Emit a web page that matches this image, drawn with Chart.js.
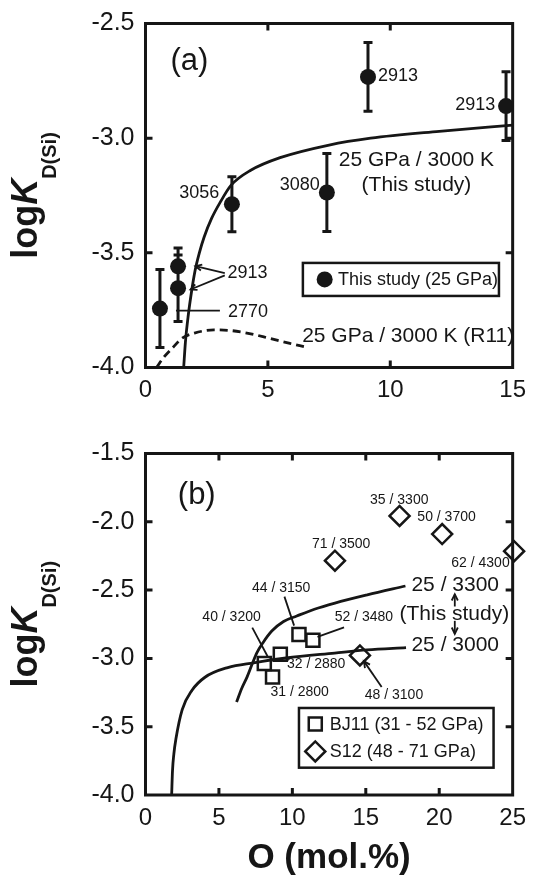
<!DOCTYPE html>
<html>
<head>
<meta charset="utf-8">
<script src="https://cdn.jsdelivr.net/npm/chart.js@4.4.1/dist/chart.umd.min.js"></script>
<style>
  html, body { margin: 0; padding: 0; background: #fff; }
  body { width: 537px; height: 876px; position: relative; overflow: hidden; }
  canvas { position: absolute; left: 0; }
  #chartA { top: 0; }
  #chartB { top: 430px; }
</style>
</head>
<body>
<canvas id="chartA" width="537" height="430"></canvas>
<canvas id="chartB" width="537" height="446"></canvas>
<script>
// ---- panel (a): this study, 25 GPa ----
const oStudy = [0.59, 1.33, 1.33, 3.53, 7.41, 9.09, 14.73]
const logKdStudy = [-3.743, -3.559, -3.654, -3.288, -3.237, -2.733, -2.86]
const errStudy = [0.17, 0.08, 0.145, 0.12, 0.17, 0.15, 0.15]

// 25 GPa / 3000 K model curve (this study)
const fitA_O = [1.56, 1.63, 1.75, 1.88, 2.02, 2.2, 2.4, 2.7, 3.05, 3.5, 4.3, 5.5, 7.5, 9.2, 12, 15]
const fitA_logKd = [-4.0, -3.89, -3.77, -3.67, -3.58, -3.5, -3.43, -3.35, -3.28, -3.205, -3.14, -3.085, -3.03, -3.0, -2.97, -2.943]

// 25 GPa / 3000 K curve of R11 (dashed)
const r11_O = [0.45, 0.75, 1.1, 1.5, 2.0, 2.8, 3.5, 4.3, 5.1, 5.9, 6.5]
const r11_logKd = [-4.0, -3.955, -3.915, -3.872, -3.85, -3.836, -3.839, -3.853, -3.874, -3.895, -3.91]

const xTicksA = [0, 5, 10, 15]
const yTicksA = [-4.0, -3.5, -3.0, -2.5]

// ---- panel (b): literature data ----
const bj11_O = [8.09, 8.65, 9.18, 10.45, 11.4]
const bj11_logKd = [-3.037, -3.136, -2.97, -2.825, -2.868]
const s12_O = [12.9, 14.6, 17.3, 20.2, 25.1]
const s12_logKd = [-2.285, -2.978, -1.957, -2.09, -2.215]

// model curves 25 GPa / 3000 K and 25 GPa / 3300 K
const fit3000_O = [1.78, 1.84, 1.93, 2.07, 2.5, 3.17, 4.05, 5.6, 7.36, 9.57, 12.88, 15.09, 17.74]
const fit3000_logKd = [-4.0, -3.82, -3.7, -3.59, -3.375, -3.233, -3.138, -3.067, -3.032, -2.997, -2.961, -2.938, -2.921]
const fit3300_O = [6.2, 6.55, 6.92, 7.25, 7.58, 8.0, 8.6, 9.4, 10.3, 11.5, 12.9, 15.1, 17.7]
const fit3300_logKd = [-3.32, -3.22, -3.135, -3.045, -2.96, -2.885, -2.8, -2.73, -2.69, -2.64, -2.595, -2.535, -2.47]

const xTicksB = [0, 5, 10, 15, 20, 25]
const yTicksB = [-4.0, -3.5, -3.0, -2.5, -2.0, -1.5]

const ink = '#161616'
const fam = '"Liberation Sans", Arial, Helvetica, sans-serif'

const pairs = (xs, ys) => xs.map((x, i) => ({ x, y: ys[i] }))

// text notes in data units: [text, x, y, size, align]
const notesA = [
  ['(a)', 1.02, -2.665, 31, 'left'],
  ['2913', 9.5, -2.729, 18, 'left'],
  ['2913', 14.29, -2.856, 18, 'right'],
  ['3056', 3.01, -3.238, 18, 'right'],
  ['3080', 7.12, -3.204, 18, 'right'],
  ['25 GPa / 3000 K', 11.07, -3.094, 21, 'center'],
  ['(This study)', 11.07, -3.206, 21, 'center'],
  ['2913', 3.35, -3.59, 18, 'left'],
  ['2770', 3.37, -3.76, 18, 'left'],
  ['25 GPa / 3000 K (R11)', 6.4, -3.862, 21, 'left'],
]
// leader lines: [x1, y1, x2, y2, arrowhead]
const leadersA = [
  [3.24, -3.588, 2.04, -3.558, true],
  [3.24, -3.598, 1.84, -3.66, true],
  [3.04, -3.752, 1.245, -3.752, false],
]
const notesB = [
  ['(b)', 2.2, -1.805, 31, 'left'],
  ['35 / 3300', 17.28, -1.845, 14, 'center'],
  ['50 / 3700', 20.5, -1.967, 14, 'center'],
  ['71 / 3500', 13.32, -2.164, 14, 'center'],
  ['62 / 4300', 22.81, -2.305, 14, 'center'],
  ['44 / 3150', 9.24, -2.489, 14, 'center'],
  ['40 / 3200', 5.86, -2.7, 14, 'center'],
  ['52 / 3480', 14.87, -2.7, 14, 'center'],
  ['32 / 2880', 11.62, -3.039, 14, 'center'],
  ['31 / 2800', 10.5, -3.244, 14, 'center'],
  ['48 / 3100', 16.92, -3.268, 14, 'center'],
  ['25 / 3300', 21.09, -2.463, 21, 'center'],
  ['(This study)', 21.03, -2.676, 21, 'center'],
  ['25 / 3000', 21.09, -2.907, 21, 'center'],
]
const leadersB = [
  [9.46, -2.548, 10.12, -2.76, false],
  [7.27, -2.775, 8.31, -2.984, false],
  [13.52, -2.773, 11.71, -2.843, false],
  [16.08, -3.209, 14.87, -3.02, true],
  [21.06, -2.62, 21.06, -2.53, true],
  [21.06, -2.725, 21.06, -2.82, true],
]
// legend boxes: box [x1, x2, y1, y2], rows [style, x, y, text, textX]
const legendA = { box: [6.43, 14.44, -3.544, -3.688], rows: [['circle', 7.32, -3.616, 'This study (25 GPa)', 7.86]] }
const legendB = {
  box: [10.45, 23.7, -3.363, -3.8],
  rows: [
    ['rect', 11.56, -3.481, 'BJ11 (31 - 52 GPa)', 12.55],
    ['rectRot', 11.56, -3.681, 'S12 (48 - 71 GPa)', 12.55],
  ],
}

function marker(ctx, style, x, y, r) {
  ctx.beginPath()
  if (style === 'circle') {
    ctx.arc(x, y, r, 0, Math.PI * 2)
    ctx.fill()
  } else if (style === 'rect') {
    const s = r * Math.SQRT1_2
    ctx.rect(x - s, y - s, 2 * s, 2 * s)
    ctx.stroke()
  } else {
    ctx.moveTo(x - r, y)
    ctx.lineTo(x, y - r)
    ctx.lineTo(x + r, y)
    ctx.lineTo(x, y + r)
    ctx.closePath()
    ctx.stroke()
  }
}

function arrowLine(ctx, x1, y1, x2, y2, head) {
  ctx.beginPath()
  ctx.moveTo(x1, y1)
  ctx.lineTo(x2, y2)
  ctx.stroke()
  if (!head) return
  const ang = Math.atan2(y2 - y1, x2 - x1)
  const L = 7, w = 0.45
  ctx.beginPath()
  ctx.moveTo(x2 - L * Math.cos(ang - w), y2 - L * Math.sin(ang - w))
  ctx.lineTo(x2, y2)
  ctx.lineTo(x2 - L * Math.cos(ang + w), y2 - L * Math.sin(ang + w))
  ctx.stroke()
}

// frame round the plot area with inward ticks on all four sides
const framePlugin = {
  id: 'frame',
  afterDraw(chart) {
    const { ctx, chartArea: a, scales: { x, y } } = chart
    ctx.save()
    ctx.strokeStyle = ink
    ctx.lineWidth = 3
    ctx.strokeRect(a.left, a.top, a.right - a.left, a.bottom - a.top)
    const len = 7
    ctx.beginPath()
    x.ticks.forEach((t) => {
      const px = x.getPixelForValue(t.value)
      if (px < a.left + 2 || px > a.right - 2) return
      ctx.moveTo(px, a.bottom); ctx.lineTo(px, a.bottom - len)
      ctx.moveTo(px, a.top); ctx.lineTo(px, a.top + len)
    })
    y.ticks.forEach((t) => {
      const py = y.getPixelForValue(t.value)
      if (py < a.top + 2 || py > a.bottom - 2) return
      ctx.moveTo(a.left, py); ctx.lineTo(a.left + len, py)
      ctx.moveTo(a.right, py); ctx.lineTo(a.right - len, py)
    })
    ctx.stroke()
    ctx.restore()
  },
}

// rotated y title: log K with subscript D(Si)
const yTitlePlugin = {
  id: 'ytitle',
  afterDraw(chart) {
    const { ctx, chartArea: a } = chart
    const parts = [
      ['log', 'bold 36px ' + fam, 0],
      ['K', 'italic bold 36px ' + fam, 0],
      ['D(Si)', 'bold 20px ' + fam, 19],
    ]
    ctx.save()
    let total = 0
    parts.forEach((p) => { ctx.font = p[1]; total += ctx.measureText(p[0]).width })
    ctx.translate(37, (a.top + a.bottom) / 2)
    ctx.rotate(-Math.PI / 2)
    ctx.fillStyle = ink
    ctx.textBaseline = 'alphabetic'
    let u = -total / 2
    parts.forEach((p) => {
      ctx.font = p[1]
      ctx.fillText(p[0], u, p[2])
      u += ctx.measureText(p[0]).width
    })
    ctx.restore()
  },
}

function errorBarPlugin(xs, ys, errs) {
  return {
    id: 'errbars',
    beforeDatasetsDraw(chart) {
      const { ctx, scales: { x, y } } = chart
      ctx.save()
      ctx.strokeStyle = ink
      ctx.lineWidth = 3
      ctx.beginPath()
      xs.forEach((xv, i) => {
        const px = x.getPixelForValue(xv)
        const top = y.getPixelForValue(ys[i] + errs[i])
        const bot = y.getPixelForValue(ys[i] - errs[i])
        ctx.moveTo(px, top); ctx.lineTo(px, bot)
        ctx.moveTo(px - 4.5, top); ctx.lineTo(px + 4.5, top)
        ctx.moveTo(px - 4.5, bot); ctx.lineTo(px + 4.5, bot)
      })
      ctx.stroke()
      ctx.restore()
    },
  }
}

function notesPlugin(notes, leaders, legend) {
  return {
    id: 'notes',
    afterDraw(chart) {
      const { ctx, scales: { x, y } } = chart
      ctx.save()
      ctx.fillStyle = ink
      ctx.strokeStyle = ink
      ctx.textBaseline = 'middle'
      notes.forEach(([text, xv, yv, size, align]) => {
        ctx.font = size + 'px ' + fam
        ctx.textAlign = align
        ctx.fillText(text, x.getPixelForValue(xv), y.getPixelForValue(yv))
      })
      ctx.lineWidth = 1.8
      leaders.forEach(([x1, y1, x2, y2, head]) => {
        arrowLine(ctx, x.getPixelForValue(x1), y.getPixelForValue(y1),
          x.getPixelForValue(x2), y.getPixelForValue(y2), head)
      })
      const [bx1, bx2, by1, by2] = legend.box
      ctx.lineWidth = 2.5
      const l = x.getPixelForValue(bx1), r = x.getPixelForValue(bx2)
      const t = y.getPixelForValue(by1), b = y.getPixelForValue(by2)
      ctx.fillStyle = '#fff'
      ctx.fillRect(l, t, r - l, b - t)
      ctx.strokeRect(l, t, r - l, b - t)
      ctx.fillStyle = ink
      ctx.textAlign = 'left'
      ctx.font = '18px ' + fam
      legend.rows.forEach(([style, mx, my, text, tx]) => {
        const py = y.getPixelForValue(my)
        ctx.lineWidth = 2.5
        marker(ctx, style, x.getPixelForValue(mx), py, style === 'circle' ? 8 : style === 'rect' ? 9.2 : 10)
        ctx.fillText(text, x.getPixelForValue(tx), py + 1)
      })
      ctx.restore()
    },
  }
}

function axes(xMax, xTicks, yMin, yMax, yTicks, xHeight, xTitle) {
  return {
    x: {
      type: 'linear', min: 0, max: xMax,
      grid: { display: false, drawTicks: false },
      border: { display: false },
      afterBuildTicks: (s) => { s.ticks = xTicks.map((v) => ({ value: v })) },
      afterFit: (s) => { s.height = xHeight },
      ticks: {
        color: ink, padding: 11, maxRotation: 0, autoSkip: false,
        font: { family: fam, size: 24, lineHeight: 1 },
        callback: (v) => String(v),
      },
      title: xTitle
        ? { display: true, text: xTitle, color: ink, padding: { top: 0, bottom: 0 },
            font: { family: fam, size: 35, weight: 'bold', lineHeight: 1 } }
        : { display: false },
    },
    y: {
      type: 'linear', min: yMin, max: yMax,
      grid: { display: false, drawTicks: false },
      border: { display: false },
      afterBuildTicks: (s) => { s.ticks = yTicks.map((v) => ({ value: v })) },
      afterFit: (s) => { s.width = 145.5 },
      ticks: {
        color: ink, padding: 11, autoSkip: false,
        font: { family: fam, size: 25, lineHeight: 1 },
        callback: (v) => v.toFixed(1),
      },
    },
  }
}

const common = {
  responsive: false,
  devicePixelRatio: 1,
  animation: false,
  events: [],
  plugins: { legend: { display: false }, tooltip: { enabled: false } },
}

const curve = (xs, ys, dash) => ({
  type: 'line',
  data: pairs(xs, ys),
  borderColor: ink,
  borderWidth: 2.8,
  borderDash: dash || [],
  pointRadius: 0,
  fill: false,
  cubicInterpolationMode: 'monotone',
  clip: false,
})

new Chart(document.getElementById('chartA'), {
  type: 'scatter',
  data: {
    datasets: [
      curve(fitA_O, fitA_logKd),
      curve(r11_O, r11_logKd, [8, 5]),
      {
        label: 'This study (25 GPa)',
        data: pairs(oStudy, logKdStudy),
        pointStyle: 'circle',
        pointRadius: 8,
        pointBackgroundColor: ink,
        pointBorderWidth: 0,
        clip: false,
      },
    ],
  },
  options: {
    ...common,
    layout: { padding: { top: 14, right: 15.5, left: 0, bottom: 0 } },
    scales: axes(15, xTicksA, -4, -2.5, yTicksA, 62.5, null),
  },
  plugins: [errorBarPlugin(oStudy, logKdStudy, errStudy), framePlugin, yTitlePlugin,
    notesPlugin(notesA, leadersA, legendA)],
})

new Chart(document.getElementById('chartB'), {
  type: 'scatter',
  data: {
    datasets: [
      curve(fit3000_O, fit3000_logKd),
      curve(fit3300_O, fit3300_logKd),
      {
        label: 'BJ11 (31 - 52 GPa)',
        data: pairs(bj11_O, bj11_logKd),
        pointStyle: 'rect',
        pointRadius: 9.2,
        pointBackgroundColor: 'rgba(0,0,0,0)',
        pointBorderColor: ink,
        pointBorderWidth: 2.5,
        clip: false,
      },
      {
        label: 'S12 (48 - 71 GPa)',
        data: pairs(s12_O, s12_logKd),
        pointStyle: 'rectRot',
        pointRadius: 10,
        pointBackgroundColor: 'rgba(0,0,0,0)',
        pointBorderColor: ink,
        pointBorderWidth: 2.5,
        clip: false,
      },
    ],
  },
  options: {
    ...common,
    layout: { padding: { top: 12, right: 14, left: 0, bottom: 0 } },
    scales: axes(25, xTicksB, -4, -1.5, yTicksB, 81, 'O (mol.%)'),
  },
  plugins: [framePlugin, yTitlePlugin, notesPlugin(notesB, leadersB, legendB)],
})
</script>
</body>
</html>
